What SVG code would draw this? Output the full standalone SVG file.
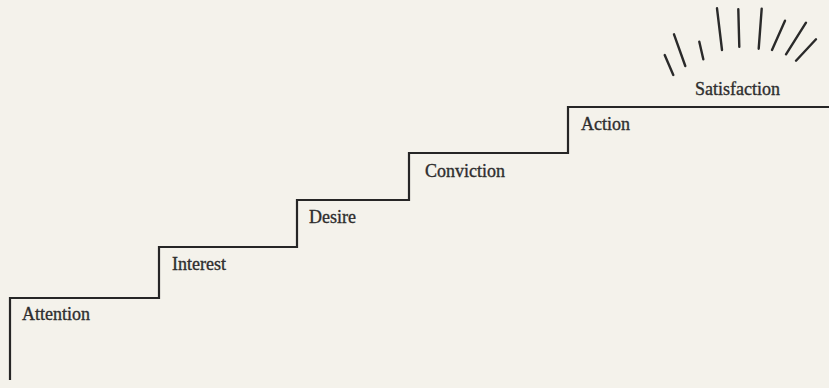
<svg xmlns="http://www.w3.org/2000/svg" width="829" height="388" viewBox="0 0 829 388">
  <style>
    .step { fill: none; stroke: #262626; stroke-width: 2.2; stroke-linejoin: miter; }
    .ray { stroke: #2a2a2a; stroke-width: 2.4; stroke-linecap: round; }
    .label { font-family: "Liberation Serif", "Times New Roman", serif; font-size: 18px; fill: #2e2e2e; stroke: #2e2e2e; stroke-width: 0.35; }
  </style>
  <rect width="829" height="388" fill="#f4f2eb"/>

  <!-- staircase -->
  <g id="connectors">
    <path class="step" d="M10,380 V298 H159 V247 H297 V200 H409 V153 H568 V107 H829"/>
  </g>

  <g id="attention"><text class="label" x="22" y="320">Attention</text></g>
  <g id="interest"><text class="label" x="172" y="270">Interest</text></g>
  <g id="desire"><text class="label" x="309" y="223">Desire</text></g>
  <g id="conviction"><text class="label" x="425" y="177">Conviction</text></g>
  <g id="action"><text class="label" x="581" y="130">Action</text></g>
  <g id="satisfaction">
    <text class="label" x="695" y="95">Satisfaction</text>
    <!-- radiating strokes above the top step -->
    <g class="rays">
      <line class="ray" x1="664.7" y1="55" x2="673.3" y2="75"/>
      <line class="ray" x1="674" y1="34.3" x2="685.3" y2="66"/>
      <line class="ray" x1="699.3" y1="41.7" x2="703.3" y2="59.3"/>
      <line class="ray" x1="717" y1="8.3" x2="722" y2="50"/>
      <line class="ray" x1="738.3" y1="9.3" x2="739.3" y2="46.7"/>
      <line class="ray" x1="761.7" y1="8.7" x2="758.7" y2="48.7"/>
      <line class="ray" x1="785" y1="20.7" x2="772" y2="50"/>
      <line class="ray" x1="806" y1="22.7" x2="786" y2="54.3"/>
      <line class="ray" x1="816" y1="39.3" x2="796" y2="60.7"/>
    </g>
  </g>
</svg>
